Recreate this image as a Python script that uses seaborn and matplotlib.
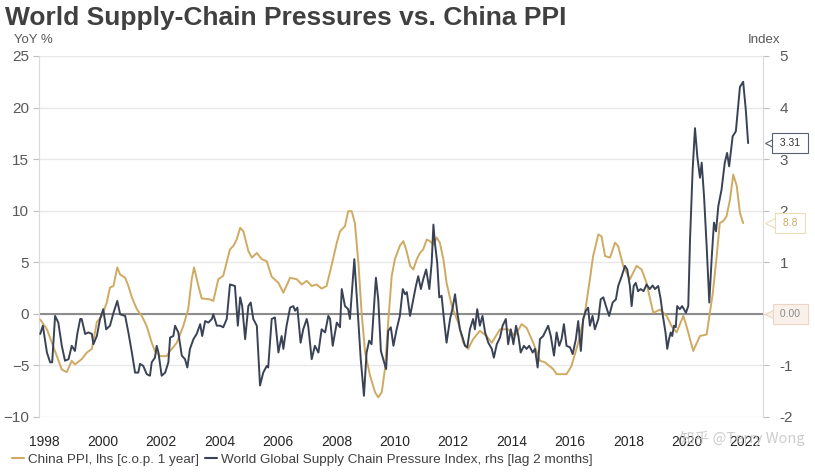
import pandas as pd
import seaborn as sns
import matplotlib.pyplot as plt
import matplotlib.transforms as mtransforms
from matplotlib.lines import Line2D

# China PPI, YoY % (left axis)
ppi_year = [1997.85, 1998.08, 1998.29, 1998.59, 1998.76, 1998.93, 1999.04, 1999.27, 1999.45, 1999.62,
            1999.79, 1999.96, 2000.13, 2000.24, 2000.36, 2000.49, 2000.59, 2000.76, 2000.87, 2000.99,
            2001.16, 2001.33, 2001.5, 2001.67, 2001.78, 2001.96, 2002.18, 2002.3, 2002.53, 2002.75,
            2002.92, 2003.04, 2003.12, 2003.27, 2003.38, 2003.67, 2003.78, 2003.95, 2004.12, 2004.35,
            2004.47, 2004.58, 2004.7, 2004.81, 2004.98, 2005.1, 2005.27, 2005.44, 2005.61, 2005.78,
            2006.01, 2006.18, 2006.41, 2006.64, 2006.81, 2006.98, 2007.15, 2007.32, 2007.49, 2007.66,
            2007.84, 2008.01, 2008.12, 2008.29, 2008.4, 2008.52, 2008.63, 2008.75, 2008.86, 2008.98,
            2009.15, 2009.32, 2009.43, 2009.55, 2009.66, 2009.77, 2009.89, 2010.0, 2010.17, 2010.29,
            2010.4, 2010.52, 2010.63, 2010.75, 2010.86, 2010.97, 2011.09, 2011.2, 2011.32, 2011.43,
            2011.54, 2011.66, 2011.77, 2011.95, 2012.17, 2012.34, 2012.51, 2012.68, 2012.91, 2013.14,
            2013.32, 2013.6, 2013.88, 2014.11, 2014.34, 2014.51, 2014.74, 2014.97, 2015.14, 2015.42,
            2015.54, 2015.88, 2016.05, 2016.28, 2016.51, 2016.68, 2016.79, 2016.97, 2017.08, 2017.2,
            2017.37, 2017.54, 2017.65, 2017.82, 2018.05, 2018.28, 2018.45, 2018.62, 2018.85, 2019.08,
            2019.31, 2019.48, 2019.65, 2019.88, 2019.99, 2020.22, 2020.45, 2020.68, 2020.79, 2020.89,
            2021.02, 2021.13, 2021.25, 2021.36, 2021.48, 2021.59, 2021.71, 2021.82, 2021.93]
ppi_yoy = [-0.55, -1.5, -3.1, -5.4, -5.65, -4.55, -4.9, -4.4, -3.75, -3.4,
           -0.8, -0.2, 1.1, 2.55, 2.7, 4.5, 3.8, 3.5, 2.7, 1.6,
           0.45, -0.2, -1.2, -2.8, -3.6, -4.1, -4.1, -3.6, -2.8, -1.2,
           0.45, 3.35, 4.5, 2.7, 1.5, 1.4, 1.25, 3.35, 3.7, 6.25,
           6.6, 7.2, 8.35, 8.0, 6.1, 5.45, 5.9, 5.3, 5.1, 3.6,
           3.0, 2.05, 3.5, 3.35, 2.85, 3.2, 2.7, 2.85, 2.45, 2.7,
           4.8, 6.9, 8.0, 8.5, 9.95, 9.95, 8.8, 4.95, 0.1, -3.75,
           -6.0, -7.6, -8.1, -7.6, -5.35, -0.85, 3.65, 5.3, 6.6, 7.05,
           6.1, 4.65, 4.3, 5.3, 5.9, 6.25, 7.2, 7.05, 6.7, 7.4,
           6.9, 5.3, 3.0, 0.75, -0.85, -2.8, -3.4, -2.45, -1.65, -2.15,
           -2.8, -1.5, -1.5, -2.15, -1.0, -1.35, -2.8, -4.55, -4.7, -5.35,
           -5.85, -5.85, -5.05, -2.8, 0.1, 3.35, 5.6, 7.7, 7.5, 5.6,
           5.45, 6.9, 6.55, 4.65, 3.35, 4.65, 4.3, 3.0, 0.1, 0.4,
           -0.2, -1.2, -1.8, -0.2, -1.2, -3.6, -2.15, -2.0, 0.1, 2.0,
           5.5, 8.8, 9.0, 9.45, 11.1, 13.5, 12.4, 9.8, 8.8]

# World Global Supply Chain Pressure Index (right axis)
gscpi_year = [1997.85, 1997.94, 1998.08, 1998.19, 1998.26, 1998.36, 1998.47, 1998.59, 1998.7, 1998.82,
              1998.93, 1999.04, 1999.12, 1999.22, 1999.27, 1999.39, 1999.5, 1999.62, 1999.67, 1999.79,
              1999.9, 2000.01, 2000.11, 2000.24, 2000.36, 2000.49, 2000.59, 2000.76, 2000.87, 2000.99,
              2001.1, 2001.21, 2001.27, 2001.38, 2001.5, 2001.61, 2001.67, 2001.78, 2001.84, 2001.9,
              2002.01, 2002.13, 2002.24, 2002.3, 2002.41, 2002.47, 2002.58, 2002.7, 2002.81, 2002.89,
              2002.98, 2003.1, 2003.21, 2003.33, 2003.4, 2003.5, 2003.61, 2003.73, 2003.78, 2003.9,
              2004.01, 2004.12, 2004.24, 2004.35, 2004.52, 2004.62, 2004.7, 2004.77, 2004.87, 2004.98,
              2005.06, 2005.15, 2005.27, 2005.38, 2005.49, 2005.61, 2005.66, 2005.78, 2005.89, 2006.01,
              2006.12, 2006.18, 2006.29, 2006.41, 2006.52, 2006.58, 2006.66, 2006.77, 2006.86, 2006.98,
              2007.03, 2007.15, 2007.26, 2007.38, 2007.49, 2007.61, 2007.72, 2007.78, 2007.87, 2008.01,
              2008.12, 2008.18, 2008.29, 2008.4, 2008.46, 2008.61, 2008.73, 2008.83, 2008.94, 2009.03,
              2009.12, 2009.2, 2009.35, 2009.43, 2009.52, 2009.6, 2009.7, 2009.77, 2009.86, 2009.95,
              2010.06, 2010.17, 2010.27, 2010.35, 2010.41, 2010.52, 2010.61, 2010.72, 2010.8, 2010.89,
              2010.97, 2011.07, 2011.18, 2011.26, 2011.32, 2011.37, 2011.45, 2011.52, 2011.6, 2011.68,
              2011.77, 2011.89, 2011.98, 2012.06, 2012.14, 2012.23, 2012.32, 2012.4, 2012.48, 2012.57,
              2012.68, 2012.74, 2012.82, 2012.91, 2013.0, 2013.09, 2013.2, 2013.32, 2013.39, 2013.49,
              2013.6, 2013.69, 2013.8, 2013.88, 2013.97, 2014.06, 2014.15, 2014.23, 2014.31, 2014.42,
              2014.51, 2014.6, 2014.72, 2014.8, 2014.89, 2014.97, 2015.08, 2015.14, 2015.25, 2015.34,
              2015.45, 2015.54, 2015.63, 2015.71, 2015.79, 2015.88, 2016.0, 2016.09, 2016.2, 2016.28,
              2016.37, 2016.45, 2016.54, 2016.62, 2016.68, 2016.77, 2016.85, 2016.97, 2017.05, 2017.14,
              2017.23, 2017.34, 2017.46, 2017.57, 2017.65, 2017.77, 2017.88, 2017.96, 2018.05, 2018.11,
              2018.18, 2018.25, 2018.33, 2018.42, 2018.52, 2018.62, 2018.73, 2018.83, 2018.91, 2019.02,
              2019.1, 2019.18, 2019.27, 2019.33, 2019.39, 2019.45, 2019.5, 2019.56, 2019.62, 2019.67,
              2019.76, 2019.84, 2019.97, 2020.05, 2020.11, 2020.2, 2020.28, 2020.36, 2020.45, 2020.51,
              2020.59, 2020.68, 2020.77, 2020.85, 2020.93, 2021.0, 2021.08, 2021.19, 2021.3, 2021.38,
              2021.45, 2021.57, 2021.68, 2021.82, 2021.93, 2022.02, 2022.1]
gscpi_index = [-0.39, -0.23, -0.75, -0.94, -0.94, -0.04, -0.17, -0.62, -0.91, -0.88,
               -0.62, -0.72, -0.39, -0.10, -0.10, -0.39, -0.36, -0.39, -0.59, -0.43,
               -0.10, 0.09, -0.30, -0.23, 0.02, 0.25, -0.01, -0.04, -0.36, -0.75,
               -1.14, -1.14, -0.97, -1.01, -1.17, -1.2, -0.94, -0.85, -0.62, -0.75,
               -1.2, -1.14, -0.94, -0.46, -0.43, -0.23, -0.36, -0.81, -0.88, -1.04,
               -0.68, -0.49, -0.39, -0.2, -0.43, -0.14, -0.17, -0.10, -0.01, -0.23,
               -0.23, -0.26, -0.10, 0.57, 0.54, -0.23, 0.32, 0.15, -0.49, 0.15,
               0.22, -0.10, -0.23, -1.39, -1.14, -1.01, -1.04, -0.10, -0.07, -0.75,
               -0.43, -0.68, -0.23, 0.12, 0.15, 0.06, 0.12, -0.56, -0.30, -0.10,
               -0.23, -0.88, -0.62, -0.75, -0.30, -0.36, -0.04, -0.10, -0.62, -0.17,
               -0.26, 0.48, 0.15, 0.09, -0.10, 1.06, 0.02, -0.88, -1.59, -0.75,
               -0.52, -0.59, 0.70, 0.28, -0.72, -0.88, -1.07, -0.33, -0.26, -0.62,
               -0.30, -0.04, 0.48, 0.38, 0.42, -0.04, 0.22, 0.54, 0.73, 0.48,
               0.67, 0.86, 0.48, 0.99, 1.73, 1.38, 0.99, 0.32, 0.35, -0.10,
               -0.56, -0.10, 0.12, 0.38, 0.02, -0.30, -0.46, -0.62, -0.65, -0.30,
               -0.10, -0.30, 0.09, -0.23, -0.04, -0.36, -0.56, -0.68, -0.85, -0.59,
               -0.46, -0.23, -0.10, -0.59, -0.30, -0.59, -0.23, -0.43, -0.75, -0.62,
               -0.68, -0.62, -0.75, -0.68, -1.04, -0.49, -0.43, -0.36, -0.23, -0.43,
               -0.81, -0.36, -0.62, -0.49, -0.2, -0.62, -0.65, -0.78, -0.49, -0.14,
               -0.72, -0.10, 0.06, 0.12, -0.23, -0.04, -0.30, -0.10, 0.28, 0.32,
               0.15, -0.04, 0.22, 0.28, 0.54, 0.73, 0.93, 0.86, 0.54, 0.15,
               0.54, 0.6, 0.44, 0.48, 0.44, 0.57, 0.48, 0.55, 0.48, 0.54,
               0.3, -0.04, -0.36, -0.68, -0.49, -0.36, -0.43, -0.23, -0.26, 0.15,
               0.09, 0.15, 0.02, 0.15, 1.44, 2.80, 3.60, 3.05, 2.64, 2.93,
               2.28, 1.31, 0.22, 1.06, 1.77, 1.60, 2.09, 2.41, 2.93, 3.12,
               2.86, 3.44, 3.54, 4.40, 4.50, 3.96, 3.31]

assert len(ppi_year) == len(ppi_yoy), (len(ppi_year), len(ppi_yoy))
assert len(gscpi_year) == len(gscpi_index), (len(gscpi_year), len(gscpi_index))

year_ticks = list(range(1998, 2023, 2))
right_ticks = list(range(-2, 6))
GOLD = '#cfaa62'
NAVY = '#3a4256'
GREY = '#595959'

sns.set_style('white')
plt.rcParams['font.family'] = ['Liberation Sans', 'DejaVu Sans']
NARROW = ['Liberation Sans Narrow', 'Liberation Sans', 'DejaVu Sans']

ppi = pd.DataFrame({'year': ppi_year, 'yoy': ppi_yoy})
gscpi = pd.DataFrame({'year': gscpi_year, 'index': gscpi_index})

fig = plt.figure(figsize=(8.15, 4.74), dpi=100)
ax = fig.add_axes([0.0479, 0.1203, 0.8883, 0.7616])
ax2 = ax.twinx()

sns.lineplot(data=ppi, x='year', y='yoy', ax=ax, color=GOLD, linewidth=1.4, zorder=3)
sns.lineplot(data=gscpi, x='year', y='index', ax=ax2, color=NAVY, linewidth=1.4, zorder=3)

ax.set_xlim(1997.81, 2022.61)
ax.set_ylim(-10, 25)
ax2.set_ylim(-2, 5)
ax.set_yticks(range(-10, 26, 5))
# the 0 label on the right sits under the 0.00 call-out box
ax2.set_yticks(right_ticks)
ax2.set_yticklabels(['' if t == 0 else str(t) for t in right_ticks])
ax.set_xticks(year_ticks)
ax.set_xticklabels([str(y) for y in year_ticks], family=NARROW, fontsize=10, color='#6f6f6f')
for a in (ax, ax2):
    a.set_xlabel('')
    a.set_ylabel('')

ax.grid(axis='y', color='#e8e8e8', linewidth=1)
ax.set_axisbelow(True)
ax.axhline(0, color='#8c8c8c', linewidth=1.5, zorder=2)

for s in ['top', 'right']:
    ax.spines[s].set_visible(False)
ax.spines['bottom'].set_position(('outward', 6))
ax.spines['bottom'].set_color('none')
ax.spines['left'].set_color('#d9d9d9')
for s in ['top', 'left', 'bottom']:
    ax2.spines[s].set_visible(False)
ax2.spines['right'].set_color('#d9d9d9')

ax.tick_params(axis='y', length=4, color='#bfbfbf', labelsize=11, labelcolor=GREY, pad=3)
ax.tick_params(axis='x', length=4, color='#8c8c8c', pad=3)
ax2.tick_params(axis='y', length=4, color='#bfbfbf', labelsize=11, labelcolor=GREY, pad=8)

# titles and axis units
fig.text(0.006, 0.963, 'World Supply-Chain Pressures vs. China PPI', fontsize=19,
         fontweight='bold', color='#404040', va='center')
fig.text(0.017, 0.916, 'YoY %', fontsize=9.5, color=GREY, va='center')
fig.text(0.918, 0.916, 'Index', fontsize=9.5, color=GREY, va='center')

# value call-outs on the right, drawn on the top axes so they cover the tick labels
callouts = [
    (ax2, gscpi_index[-1], f'{gscpi_index[-1]:.2f}', '#5a6070', 'white', '#333333'),
    (ax, ppi_yoy[-1], f'{ppi_yoy[-1]:.1f}', '#eadcb8', 'white', GOLD),
    (ax, 0.0, '0.00', '#ead5c8', '#faf0ea', '#8c8c8c'),
]
for a, val, txt, ec, fc, tc in callouts:
    trans = mtransforms.blended_transform_factory(ax2.transAxes, a.transData)
    ax2.plot([1.0095], [val], marker='<', markersize=7, markerfacecolor=fc, markeredgecolor=ec,
             markeredgewidth=0.8, transform=trans, clip_on=False, zorder=6)
    ax2.text(1.0375, val, ' ' + txt + ' ', ha='center', va='center', fontsize=7.5, color=tc,
             transform=trans, clip_on=False, zorder=7,
             bbox=dict(boxstyle='square,pad=0.45', fc=fc, ec=ec, lw=0.8))

handles = [Line2D([], [], color=GOLD, lw=1.5), Line2D([], [], color=NAVY, lw=1.5)]
labels = ['China PPI, lhs [c.o.p. 1 year]',
          'World Global Supply Chain Pressure Index, rhs [lag 2 months]']
fig.legend(handles, labels, loc='lower left', bbox_to_anchor=(0.0, -0.008), ncol=2, frameon=False,
           handlelength=0.9, handletextpad=0.3, columnspacing=0.4,
           prop={'family': NARROW, 'size': 9.7}, labelcolor='#404040')

fig.text(0.834, 0.074, '知乎 @Terry Wong', fontsize=10.5, color='#c4c4c4', alpha=0.85,
         family=['Noto Sans CJK SC', 'DejaVu Sans'], va='center', zorder=10)

fig.savefig('out.png', dpi=100)
